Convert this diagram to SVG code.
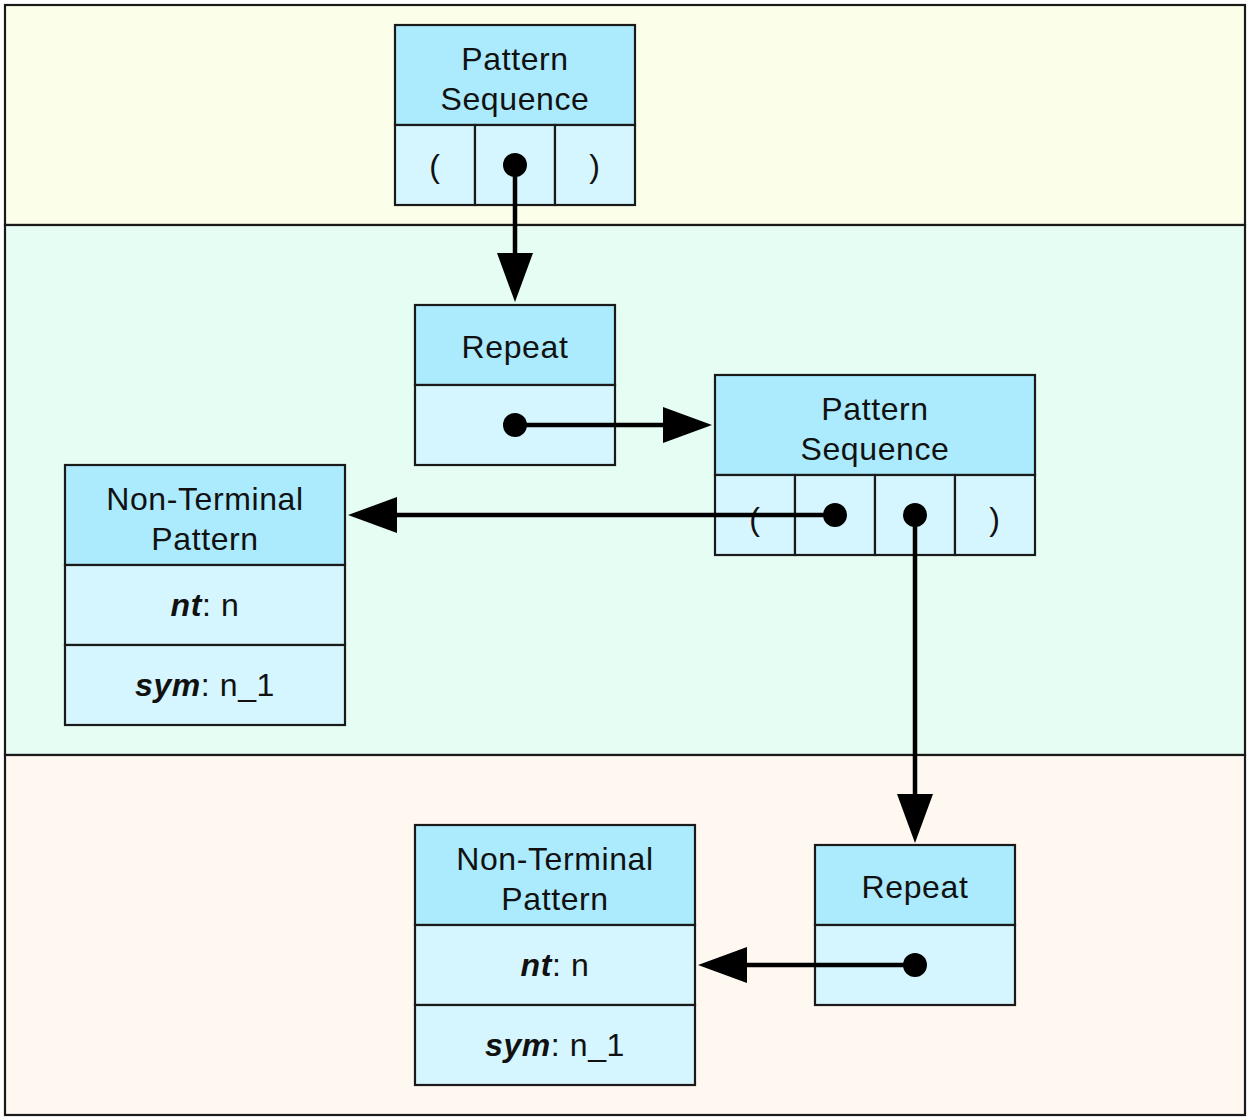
<svg xmlns="http://www.w3.org/2000/svg" width="1250" height="1120" viewBox="0 0 1250 1120">
<style>
.band{stroke:#1a1a1a;stroke-width:2.2}
.hd{fill:#acebfd;stroke:#1a1a1a;stroke-width:2.2}
.bd{fill:#d5f6fe;stroke:#1a1a1a;stroke-width:2.2}
text{font-family:"Liberation Sans",Arial,sans-serif;font-size:32px;fill:#111;text-anchor:middle;letter-spacing:0.6px}
.k{font-weight:bold;font-style:italic}
.conn line{stroke:#000;stroke-width:4.5}
.dot{fill:#000}
</style>
<defs>
<marker id="ah" markerUnits="userSpaceOnUse" markerWidth="50" markerHeight="36" refX="20" refY="18" orient="auto" viewBox="0 0 50 36">
<path d="M0,0 L49,18 L0,36 Z" fill="#000"/>
</marker>
</defs>
<g id="bands">
<rect class="band" x="5" y="5" width="1240" height="220" fill="#fbffe9"/>
<rect class="band" x="5" y="225" width="1240" height="530" fill="#e5fdf2"/>
<rect class="band" x="5" y="755" width="1240" height="360" fill="#fff8f1"/>
</g>
<g id="ps1">
<rect class="hd" x="395" y="25" width="240" height="100"/>
<rect class="bd" x="395" y="125" width="80" height="80"/>
<rect class="bd" x="475" y="125" width="80" height="80"/>
<rect class="bd" x="555" y="125" width="80" height="80"/>
<text x="515" y="70">Pattern</text>
<text x="515" y="110">Sequence</text>
<text x="435" y="177">(</text>
<text x="595" y="177">)</text>
</g>
<g id="rep1">
<rect class="hd" x="415" y="305" width="200" height="80"/>
<rect class="bd" x="415" y="385" width="200" height="80"/>
<text x="515" y="358">Repeat</text>
</g>
<g id="ps2">
<rect class="hd" x="715" y="375" width="320" height="100"/>
<rect class="bd" x="715" y="475" width="80" height="80"/>
<rect class="bd" x="795" y="475" width="80" height="80"/>
<rect class="bd" x="875" y="475" width="80" height="80"/>
<rect class="bd" x="955" y="475" width="80" height="80"/>
<text x="875" y="420">Pattern</text>
<text x="875" y="460">Sequence</text>
<text x="755" y="530">(</text>
<text x="995" y="530">)</text>
</g>
<g id="nt1">
<rect class="hd" x="65" y="465" width="280" height="100"/>
<rect class="bd" x="65" y="565" width="280" height="80"/>
<rect class="bd" x="65" y="645" width="280" height="80"/>
<text x="205" y="510">Non-Terminal</text>
<text x="205" y="550">Pattern</text>
<text x="205" y="616"><tspan class="k">nt</tspan>: n</text>
<text x="205" y="696"><tspan class="k">sym</tspan>: n_1</text>
</g>
<g id="rep2">
<rect class="hd" x="815" y="845" width="200" height="80"/>
<rect class="bd" x="815" y="925" width="200" height="80"/>
<text x="915" y="898">Repeat</text>
</g>
<g id="nt2">
<rect class="hd" x="415" y="825" width="280" height="100"/>
<rect class="bd" x="415" y="925" width="280" height="80"/>
<rect class="bd" x="415" y="1005" width="280" height="80"/>
<text x="555" y="870">Non-Terminal</text>
<text x="555" y="910">Pattern</text>
<text x="555" y="976"><tspan class="k">nt</tspan>: n</text>
<text x="555" y="1056"><tspan class="k">sym</tspan>: n_1</text>
</g>
<g id="connectors" class="conn">
<line x1="515" y1="165" x2="515" y2="273" marker-end="url(#ah)"/>
<line x1="515" y1="425" x2="683" y2="425" marker-end="url(#ah)"/>
<line x1="835" y1="515" x2="377" y2="515" marker-end="url(#ah)"/>
<line x1="915" y1="515" x2="915" y2="814" marker-end="url(#ah)"/>
<line x1="915" y1="965" x2="727" y2="965" marker-end="url(#ah)"/>
<circle class="dot" cx="515" cy="165" r="12"/>
<circle class="dot" cx="515" cy="425" r="12"/>
<circle class="dot" cx="835" cy="515" r="12"/>
<circle class="dot" cx="915" cy="515" r="12"/>
<circle class="dot" cx="915" cy="965" r="12"/>
</g>
</svg>
